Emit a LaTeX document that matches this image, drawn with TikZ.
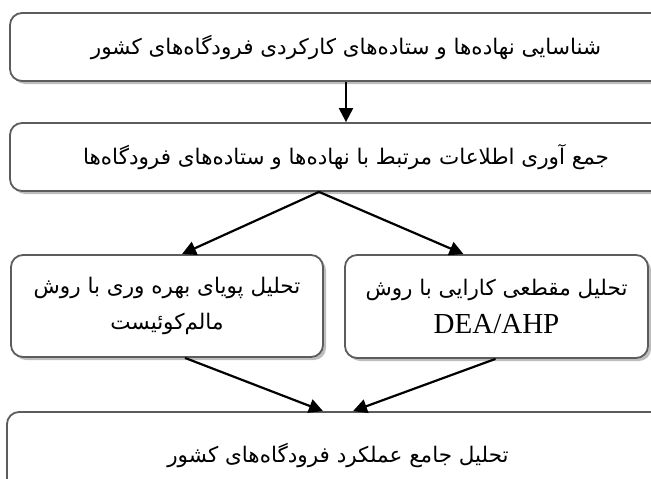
\documentclass[tikz,border=0pt]{standalone}
\usepackage{fontspec}
\setmainfont{Liberation Serif}
\newfontfamily\arabicfont[Script=Arabic]{DejaVu Sans}
\TeXXeTstate=1
\usetikzlibrary{shadows,arrows.meta}
\definecolor{boxline}{HTML}{5C5C5C}
\definecolor{shadowgray}{HTML}{BDBDBD}
\begin{document}
\begin{tikzpicture}[x=1pt,y=1pt,
  box/.style={draw=boxline, line width=1.8pt, rounded corners=12pt, fill=white,
    drop shadow={shadow xshift=3pt, shadow yshift=-3pt, fill=shadowgray, opacity=1},
    inner sep=0pt, align=center, font=\arabicfont\fontsize{21.5}{36}\selectfont},
  arr/.style={line width=2.2pt, -{Triangle[length=14pt,width=14pt]}}]
\useasboundingbox (0,0) rectangle (651,-479);
\clip (0,0) rectangle (651,-479);
\node[box, minimum width=672pt, minimum height=68pt] (b1) at (346,-47)
  {\beginR شناسایی نهاده‌ها و ستاده‌های کارکردی فرودگاه‌های کشور\endR};
\node[box, minimum width=672pt, minimum height=68pt] (b2) at (346,-157)
  {\beginR جمع آوری اطلاعات مرتبط با نهاده‌ها و ستاده‌های فرودگاه‌ها\endR};
\node[box, minimum width=312pt, minimum height=102pt] (b3) at (167,-306)
  {\beginR تحلیل پویای بهره وری با روش\endR\\ \beginR مالم‌کوئیست\endR};
\node[box, minimum width=303pt, minimum height=103pt] (b4) at (496.5,-306.5)
  {\beginR تحلیل مقطعی کارایی با روش\endR\\[2pt] {\rmfamily\fontsize{29}{36}\selectfont DEA/AHP}};
\node[box, minimum width=662pt, minimum height=86pt] (b5) at (338,-455)
  {\beginR تحلیل جامع عملکرد فرودگاه‌های کشور\endR};
\draw[arr] (b1.south) -- (b2.north);
\draw[arr] ([xshift=-27pt]b2.south) -- ([xshift=15pt]b3.north);
\draw[arr] ([xshift=-27pt]b2.south) -- ([xshift=-33pt]b4.north);
\draw[arr] ([xshift=18pt]b3.south) -- ([xshift=-15pt]b5.north);
\draw[arr] ([xshift=-1pt]b4.south) -- ([xshift=15pt]b5.north);
\end{tikzpicture}
\end{document}
